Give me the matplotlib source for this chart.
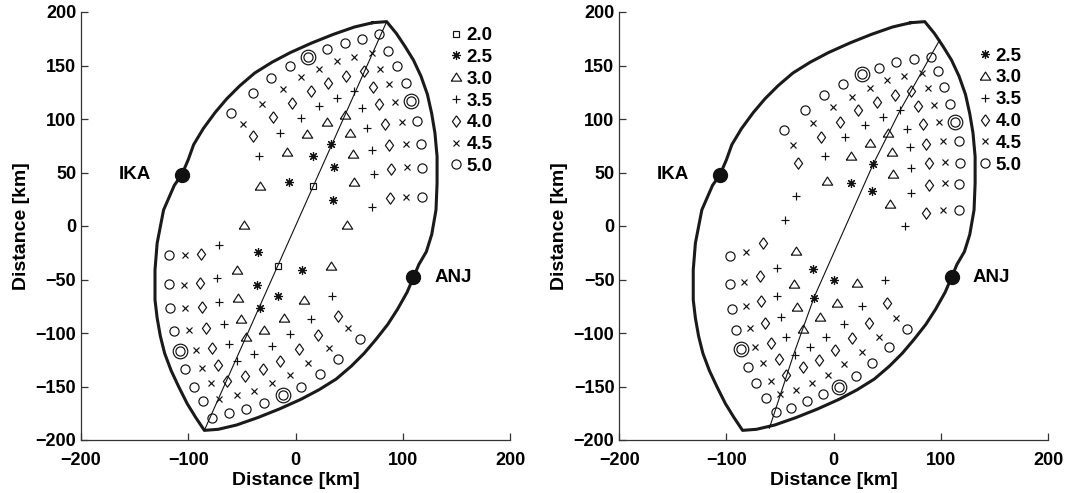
"""
plot.py

Two-panel map of source positions (by magnitude) between stations IKA and ANJ.
"""
import matplotlib
matplotlib.use("Agg")
import matplotlib.pyplot as plt

# Config

OUT_PNG = "out.png"
FIG_SIZE = (10.7, 4.93)
DPI = 100

plt.rcParams["font.family"] = ["Liberation Sans", "DejaVu Sans"]
plt.rcParams["font.weight"] = "bold"

# Data (km)

IKA = (-106, 48)
ANJ = (110, -48)

BOUNDARY = [
    (72, 190), (85, 191), (94, 180), (102, 168), (110, 155), (117, 140), (123, 123),
    (127, 105), (130, 87), (132, 65), (132, 40), (131, 15), (127, -8), (122, -24),
    (115, -36), (110, -48),
    (104, -62), (95, -78), (86, -92), (75, -106), (64, -119), (52, -131), (38, -143),
    (22, -153), (5, -162), (-15, -171), (-35, -179), (-55, -186), (-72, -190), (-85, -191),
    (-93, -179), (-101, -166), (-109, -150), (-116, -135), (-122, -119), (-126, -103),
    (-129, -86), (-131, -69), (-131, -41), (-129, -16), (-123, 15), (-113, 38), (-106, 48),
    (-100, 62), (-95, 76), (-86, 91), (-75, 106), (-64, 119), (-52, 131), (-38, 143),
    (-22, 153), (-5, 162), (15, 171), (35, 179), (55, 186), (72, 190),
]

LEFT_FAULT = [(85, 191), (-85, -191)]
RIGHT_FAULT = [(99, 174), (90, 158), (62, 108), (37, 58), (-18, -66), (-37, -119), (-60, -189)]

# left panel
LEFT_M20 = [(16, 37), (-16, -37)]
LEFT_M25 = [(-6, 41), (16, 65), (33, 77), (36, 55), (35, 24),
            (6, -41), (-16, -65), (-33, -77), (-36, -55), (-35, -24)]
LEFT_M30 = [(-33, 37), (-8, 69), (11, 86), (29, 97), (46, 104), (51, 87), (54, 67), (55, 41), (48, 1),
            (33, -37), (8, -69), (-11, -86), (-29, -97), (-46, -104), (-51, -87), (-54, -67), (-55, -41), (-48, 1)]
LEFT_M35 = [(-34, 65), (-14, 87), (5, 101), (22, 112), (39, 120), (55, 126), (62, 110), (67, 92),
            (71, 71), (73, 49), (71, 18),
            (34, -65), (14, -87), (-5, -101), (-22, -112), (-39, -120), (-55, -126), (-62, -110), (-67, -92),
            (-71, -71), (-73, -49), (-71, -18)]
LEFT_M40 = [(-40, 84), (-21, 102), (-3, 115), (14, 126), (30, 134), (47, 140), (64, 145), (72, 130),
            (78, 114), (83, 95), (87, 76), (89, 53), (88, 26),
            (40, -84), (21, -102), (3, -115), (-14, -126), (-30, -134), (-47, -140), (-64, -145), (-72, -130),
            (-78, -114), (-83, -95), (-87, -76), (-89, -53), (-88, -26)]
LEFT_M45 = [(-49, 95), (-31, 114), (-12, 128), (5, 139), (22, 147), (39, 154), (55, 158), (71, 162),
            (79, 147), (87, 133), (93, 116), (99, 97), (103, 77), (104, 55), (103, 27),
            (49, -95), (31, -114), (12, -128), (-5, -139), (-22, -147), (-39, -154), (-55, -158), (-71, -162),
            (-79, -147), (-87, -133), (-93, -116), (-99, -97), (-103, -77), (-104, -55), (-103, -27)]
LEFT_M50 = [(-60, 106), (-40, 124), (-23, 138), (-5, 150), (12, 158), (29, 165), (46, 171), (62, 175),
            (78, 179), (86, 164), (95, 150), (103, 134), (108, 117), (113, 98), (117, 77), (118, 54), (118, 27),
            (60, -106), (40, -124), (23, -138), (5, -150), (-12, -158), (-29, -165), (-46, -171), (-62, -175),
            (-78, -179), (-86, -164), (-95, -150), (-103, -134), (-108, -117), (-113, -98), (-117, -77),
            (-118, -54), (-118, -27)]
LEFT_RINGS = [(12, 158), (108, 117), (-12, -158), (-108, -117)]

# right panel
RIGHT_M25 = [(16, 40), (37, 58), (36, 33), (-19, -40), (-18, -67), (0, -50)]
RIGHT_M30 = [(-6, 42), (16, 65), (34, 78), (51, 87), (54, 69), (55, 49), (53, 21),
             (-35, -23), (-37, -54), (-34, -76), (-29, -96), (-13, -85), (3, -72), (22, -53)]
RIGHT_M35 = [(-45, 6), (-35, 28), (-8, 65), (11, 83), (29, 94), (46, 102), (62, 108), (68, 91),
             (71, 74), (72, 54), (72, 31), (67, 0),
             (-53, -39), (-53, -65), (-49, -85), (-44, -104), (-36, -121), (-22, -113), (-7, -104),
             (10, -92), (26, -75), (48, -50)]
RIGHT_M40 = [(-33, 59), (-12, 83), (6, 97), (23, 108), (40, 116), (57, 122), (72, 126), (79, 112),
             (83, 95), (86, 77), (89, 59), (89, 38), (86, 12),
             (-66, -16), (-69, -47), (-68, -70), (-64, -91), (-58, -109), (-51, -124), (-44, -139),
             (-29, -132), (-14, -125), (1, -116), (17, -105), (33, -91), (50, -72)]
RIGHT_M45 = [(-38, 76), (-19, 96), (-1, 111), (17, 121), (34, 129), (50, 136), (66, 140), (82, 143),
             (88, 129), (94, 113), (98, 97), (102, 79), (104, 60), (104, 40), (102, 15),
             (-82, -24), (-84, -52), (-82, -75), (-78, -95), (-73, -113), (-66, -128), (-58, -145),
             (-50, -157), (-35, -153), (-20, -147), (-5, -139), (10, -129), (26, -118), (42, -104), (58, -86)]
RIGHT_M50 = [(-46, 90), (-27, 108), (-9, 122), (9, 133), (26, 142), (42, 148), (58, 153), (75, 156),
             (91, 158), (97, 145), (103, 130), (109, 114), (113, 97), (117, 79), (118, 59), (117, 39), (117, 15),
             (-97, -28), (-97, -54), (-95, -78), (-91, -97), (-86, -115), (-80, -132), (-72, -147),
             (-63, -161), (-54, -174), (-40, -170), (-25, -164), (-10, -157), (5, -150), (21, -140),
             (36, -128), (52, -113), (68, -96)]
RIGHT_RINGS = [(26, 142), (113, 97), (-86, -115), (5, -150)]

# marker style per magnitude label
TRIANGLE = [(-1, -0.7), (1, -0.7), (0, 0.85), (-1, -0.7)]
DIAMOND = [(0, 1), (0.72, 0), (0, -1), (-0.72, 0), (0, 1)]
STYLES = {
    "2.0": dict(marker="s", ms=5.0),
    "2.5": dict(marker=(8, 2, 0), ms=6.5),
    "3.0": dict(marker=TRIANGLE, ms=7.5),
    "3.5": dict(marker="+", ms=6.2),
    "4.0": dict(marker=DIAMOND, ms=8.2),
    "4.5": dict(marker="x", ms=4.4),
    "5.0": dict(marker="o", ms=6.6),
}

INK = "#111111"
FS = 13


# %% Helpers

def draw_panel(ax, series, rings, fault):
    bx, by = zip(*BOUNDARY)
    ax.plot(bx, by, color="#1a1a1a", lw=2.2, solid_joinstyle="round", zorder=2)

    fx, fy = zip(*fault)
    ax.plot(fx, fy, color=INK, lw=0.8, zorder=2)

    handles = []
    for label, pts in series:
        xs, ys = zip(*pts)
        st = STYLES[label]
        (h,) = ax.plot(xs, ys, linestyle="none", marker=st["marker"], markersize=st["ms"],
                       markerfacecolor="none", markeredgecolor=INK, markeredgewidth=0.85,
                       label=label, zorder=3)
        handles.append(h)

    rx, ry = zip(*rings)
    ax.plot(rx, ry, linestyle="none", marker="o", markersize=10.5, markerfacecolor="none",
            markeredgecolor=INK, markeredgewidth=0.85, zorder=3)

    for (sx, sy), name, dx, ha in [(IKA, "IKA", -29, "right"), (ANJ, "ANJ", 20, "left")]:
        ax.plot(sx, sy, "o", color=INK, markersize=10, zorder=4)
        ax.text(sx + dx, sy, name, ha=ha, va="center", fontsize=FS + 0.5, fontweight="bold")

    ax.set_xlim(-200, 200)
    ax.set_ylim(-200, 200)
    ax.set_xticks([-200, -100, 0, 100, 200])
    ax.set_yticks(range(-200, 201, 50))
    for side in ("top", "right"):
        ax.spines[side].set_visible(False)
    for side in ("left", "bottom"):
        ax.spines[side].set_color("#333333")
        ax.spines[side].set_linewidth(0.9)
    ax.tick_params(direction="in", length=5, width=0.9, color="#333333", labelsize=FS)
    ax.tick_params(axis="x", pad=8.5)
    ax.tick_params(axis="y", pad=3.5)
    ax.set_xlabel("Distance [km]", fontsize=FS + 1, fontweight="bold", labelpad=2)
    ax.set_ylabel("Distance [km]", fontsize=FS + 1, fontweight="bold", labelpad=4)
    return handles


def add_legend(ax, handles, anchor):
    ax.legend(handles=handles, loc="upper left", bbox_to_anchor=anchor, frameon=False,
              borderpad=0, borderaxespad=0, handlelength=0.8, handletextpad=0.15,
              labelspacing=0.25, prop=dict(size=FS + 0.5, weight="bold"))


# %% Main

def main():
    fig = plt.figure(figsize=FIG_SIZE, dpi=DPI)
    ax_l = fig.add_axes([81 / 1070, 1 - 440 / 493, 429 / 1070, 428 / 493])
    ax_r = fig.add_axes([619.3 / 1070, 1 - 440 / 493, 428.7 / 1070, 428 / 493])

    left_series = [("2.0", LEFT_M20), ("2.5", LEFT_M25), ("3.0", LEFT_M30), ("3.5", LEFT_M35),
                   ("4.0", LEFT_M40), ("4.5", LEFT_M45), ("5.0", LEFT_M50)]
    right_series = [("2.5", RIGHT_M25), ("3.0", RIGHT_M30), ("3.5", RIGHT_M35),
                    ("4.0", RIGHT_M40), ("4.5", RIGHT_M45), ("5.0", RIGHT_M50)]

    h_l = draw_panel(ax_l, left_series, LEFT_RINGS, LEFT_FAULT)
    h_r = draw_panel(ax_r, right_series, RIGHT_RINGS, RIGHT_FAULT)

    add_legend(ax_l, h_l, (0.857, 0.965))
    add_legend(ax_r, h_r, (0.836, 0.917))

    fig.savefig(OUT_PNG, dpi=DPI)
    plt.close(fig)


if __name__ == "__main__":
    main()
